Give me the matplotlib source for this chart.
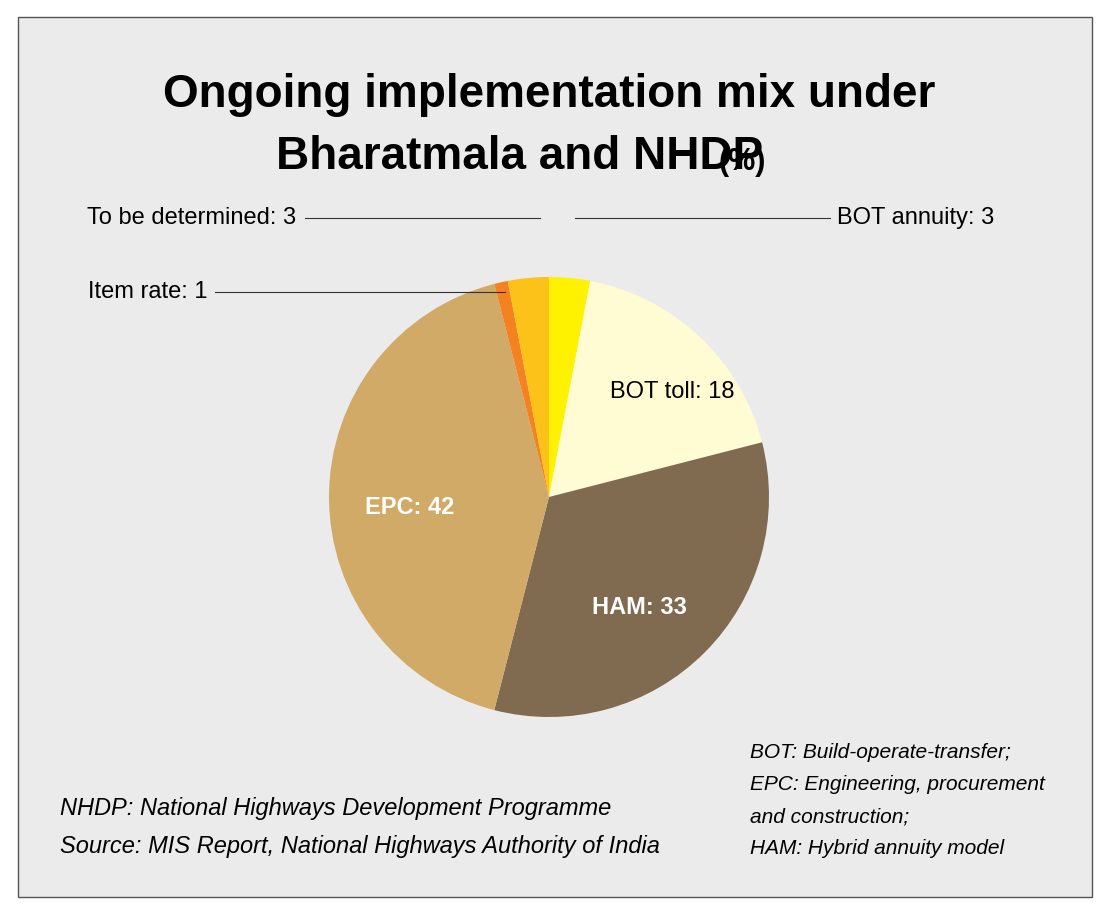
import matplotlib.pyplot as plt
from matplotlib.patches import Rectangle
from matplotlib.lines import Line2D

plt.rcParams['font.family'] = ['Liberation Sans Narrow', 'Liberation Sans', 'DejaVu Sans']

labels = ['BOT annuity', 'BOT toll', 'HAM', 'EPC', 'Item rate', 'To be determined']
values = [3, 18, 33, 42, 1, 3]
colors = ['#fff200', '#fffbd2', '#806a50', '#d2aa67', '#f58220', '#fdc219']

W, H = 1110, 915
fig = plt.figure(figsize=(W / 100, H / 100), dpi=100)
fig.patch.set_facecolor('white')
fig.patches.append(Rectangle((18 / W, 1 - 897 / H), 1074 / W, 880 / H, transform=fig.transFigure,
                             facecolor='#ebebeb', edgecolor='#555555', lw=1, zorder=-5))

def px(x, y):
    return x / W, 1 - y / H

cx, cy, r = 549, 497, 275
ax = fig.add_axes([(cx - r) / W, 1 - (cy + r) / H, 2 * r / W, 2 * r / H])
ax.set_zorder(2)
ax.patch.set_visible(False)
ax.pie(values, colors=colors, startangle=90, counterclock=False,
       wedgeprops=dict(linewidth=0))
ax.set_aspect('equal')
ax.axis('off')

fig.text(*px(549, 95), 'Ongoing implementation mix under', ha='center', va='center',
         fontsize=33, fontweight='bold')
fig.text(*px(520, 157), 'Bharatmala and NHDP', ha='center', va='center',
         fontsize=33, fontweight='bold')
fig.text(*px(718, 162), '(%)', ha='left', va='center', fontsize=22, fontweight='bold')

# slice labels
fig.text(*px(672, 392), f'{labels[1]}: {values[1]}', ha='center', va='center', fontsize=17)
fig.text(*px(639, 607), f'{labels[2]}: {values[2]}', ha='center', va='center', fontsize=17,
         color='white', fontweight='bold')
fig.text(*px(410, 508), f'{labels[3]}: {values[3]}', ha='center', va='center', fontsize=17,
         color='white', fontweight='bold')

# leader labels
fig.text(*px(837, 218), f'{labels[0]}: {values[0]}', ha='left', va='center', fontsize=17)
fig.add_artist(Line2D([575 / W, 830 / W], [1 - 218 / H] * 2, color='#333333', lw=0.8, zorder=3))
fig.text(*px(296, 218), f'{labels[5]}: {values[5]}', ha='right', va='center', fontsize=17)
fig.add_artist(Line2D([305 / W, 540 / W], [1 - 218 / H] * 2, color='#333333', lw=0.8, zorder=3))
fig.text(*px(207, 292), f'{labels[4]}: {values[4]}', ha='right', va='center', fontsize=17)
fig.add_artist(Line2D([215 / W, 505 / W], [1 - 292 / H] * 2, color='#333333', lw=0.8, zorder=3))

fig.text(*px(60, 808), 'NHDP: National Highways Development Programme', ha='left', va='center',
         fontsize=17, style='italic')
fig.text(*px(60, 847), 'Source: MIS Report, National Highways Authority of India', ha='left',
         va='center', fontsize=17, style='italic')
for i, t in enumerate(['BOT: Build-operate-transfer;', 'EPC: Engineering, procurement',
                       'and construction;', 'HAM: Hybrid annuity model']):
    fig.text(*px(750, 753 + i * 32), t, ha='left', va='center', fontsize=15, style='italic')

fig.savefig('out.png', dpi=100, facecolor=fig.get_facecolor())
